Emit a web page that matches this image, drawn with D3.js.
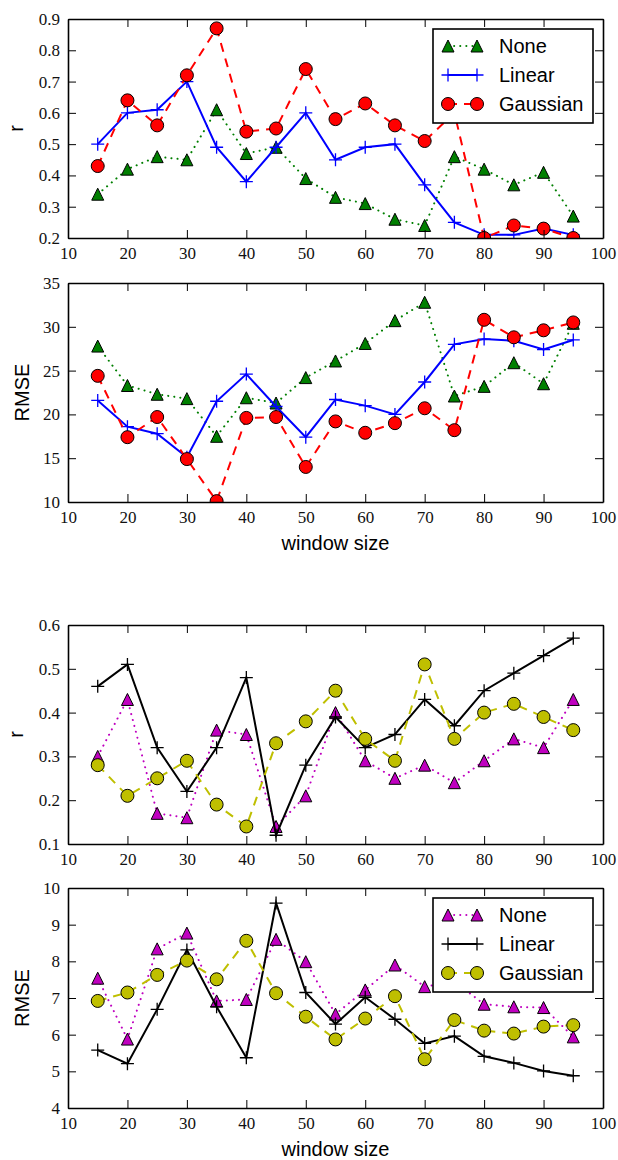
<!DOCTYPE html>
<html>
<head>
<meta charset="utf-8">
<script src="https://cdn.jsdelivr.net/npm/d3@7"></script>
<style>
  body { margin: 0; background: #fff; }
  .lbl { font-family: "Liberation Sans", Arial, sans-serif; font-size: 20px; fill: #000; }
</style>
</head>
<body>
<div id="chart"></div>
<script>
// window sizes shared by every panel
const windowSizes = [15, 20, 25, 30, 35, 40, 45, 50, 55, 60, 65, 70, 75, 80, 85, 90, 95];
const xTicks = [10, 20, 30, 40, 50, 60, 70, 80, 90, 100];
const seriesNames = ["None", "Linear", "Gaussian"];

// first dataset
const rNone1     = [0.34, 0.42, 0.46, 0.45, 0.61, 0.47, 0.49, 0.39, 0.33, 0.31, 0.26, 0.24, 0.46, 0.42, 0.37, 0.41, 0.27];
const rLinear1   = [0.50, 0.60, 0.61, 0.70, 0.49, 0.38, 0.49, 0.60, 0.45, 0.49, 0.50, 0.37, 0.25, 0.21, 0.21, 0.23, 0.21];
const rGauss1    = [0.43, 0.64, 0.56, 0.72, 0.87, 0.54, 0.55, 0.74, 0.58, 0.63, 0.56, 0.51, 0.60, 0.20, 0.24, 0.23, 0.20];
const rmseNone1  = [27.8, 23.3, 22.3, 21.8, 17.5, 21.9, 21.3, 24.2, 26.1, 28.1, 30.7, 32.8, 22.1, 23.2, 25.9, 23.5, 30.4];
const rmseLinear1 = [21.6, 18.6, 17.8, 15.1, 21.5, 24.6, 20.9, 17.4, 21.7, 21.0, 20.0, 23.7, 28.0, 28.6, 28.4, 27.4, 28.5];
const rmseGauss1 = [24.4, 17.4, 19.7, 14.9, 10.1, 19.6, 19.7, 14.0, 19.2, 17.9, 19.0, 20.7, 18.2, 30.8, 28.8, 29.6, 30.5];

// second dataset
const rNone2     = [0.30, 0.43, 0.17, 0.16, 0.36, 0.35, 0.14, 0.21, 0.40, 0.29, 0.25, 0.28, 0.24, 0.29, 0.34, 0.32, 0.43];
const rLinear2   = [0.46, 0.51, 0.32, 0.22, 0.32, 0.48, 0.12, 0.28, 0.39, 0.32, 0.35, 0.43, 0.37, 0.45, 0.49, 0.53, 0.57];
const rGauss2    = [0.28, 0.21, 0.25, 0.29, 0.19, 0.14, 0.33, 0.38, 0.45, 0.34, 0.29, 0.51, 0.34, 0.40, 0.42, 0.39, 0.36];
const rmseNone2  = [7.54, 5.88, 8.34, 8.77, 6.92, 6.96, 8.60, 7.99, 6.56, 7.22, 7.90, 7.31, 7.45, 6.83, 6.76, 6.74, 5.94];
const rmseLinear2 = [5.58, 5.21, 6.69, 8.31, 6.76, 5.37, 9.59, 7.15, 6.29, 7.02, 6.42, 5.76, 5.96, 5.41, 5.23, 5.01, 4.88];
const rmseGauss2 = [6.92, 7.15, 7.63, 8.02, 7.51, 8.56, 7.13, 6.49, 5.87, 6.44, 7.05, 5.33, 6.40, 6.11, 6.03, 6.22, 6.26];

const W = 618, H = 1160;
const svg = d3.select("#chart").append("svg").attr("width", W).attr("height", H);
const x = d3.scaleLinear().domain([10, 100]).range([68, 603]);

const styles1 = [
  { color: "#007f00", dash: "0.1,6", cap: "round", marker: "tri" },
  { color: "#0000ff", dash: null, cap: "butt", marker: "plus" },
  { color: "#ff0000", dash: "9,7", cap: "butt", marker: "circle" }
];
const styles2 = [
  { color: "#bf00bf", dash: "0.1,6", cap: "round", marker: "tri" },
  { color: "#000000", dash: null, cap: "butt", marker: "plus" },
  { color: "#bfbf00", dash: "9,7", cap: "butt", marker: "circle" }
];

const panels = [
  { top: 19, bottom: 238, domain: [0.2, 0.9], ticks: d3.range(2, 10).map(d => d / 10), fmt: d3.format(".1f"),
    ylabel: "r", labelX: 23, series: [rNone1, rLinear1, rGauss1], styles: styles1, legend: true, xlabel: false },
  { top: 283, bottom: 502, domain: [10, 35], ticks: [10, 15, 20, 25, 30, 35], fmt: d3.format("d"),
    ylabel: "RMSE", labelX: 29, series: [rmseNone1, rmseLinear1, rmseGauss1], styles: styles1, legend: false, xlabel: true },
  { top: 625, bottom: 844, domain: [0.1, 0.6], ticks: d3.range(1, 7).map(d => d / 10), fmt: d3.format(".1f"),
    ylabel: "r", labelX: 23, series: [rNone2, rLinear2, rGauss2], styles: styles2, legend: false, xlabel: false },
  { top: 888, bottom: 1108, domain: [4, 10], ticks: [4, 5, 6, 7, 8, 9, 10], fmt: d3.format("d"),
    ylabel: "RMSE", labelX: 29, series: [rmseNone2, rmseLinear2, rmseGauss2], styles: styles2, legend: true, xlabel: true }
];

function drawMarker(sel, st) {
  if (st.marker === "circle") {
    sel.append("circle").attr("r", 6.5).attr("fill", st.color).attr("stroke", "#000").attr("stroke-width", 1);
  } else if (st.marker === "tri") {
    sel.append("path").attr("d", "M0,-6L6,6L-6,6Z").attr("fill", st.color).attr("stroke", "#000").attr("stroke-width", 1);
  } else {
    sel.append("path").attr("d", "M-6.5,0H6.5M0,-6.5V6.5").attr("fill", "none").attr("stroke", st.color).attr("stroke-width", 1.3);
  }
}

panels.forEach((p, pi) => {
  const y = d3.scaleLinear().domain(p.domain).range([p.bottom, p.top]);
  const g = svg.append("g");
  const clipId = "clip" + pi;
  svg.append("clipPath").attr("id", clipId).append("rect")
    .attr("x", x.range()[0]).attr("y", p.top)
    .attr("width", x.range()[1] - x.range()[0]).attr("height", p.bottom - p.top);

  const plot = g.append("g").attr("clip-path", `url(#${clipId})`);
  p.series.forEach((vals, si) => {
    const st = p.styles[si];
    const pts = windowSizes.map((w, i) => [w, vals[i]]);
    const line = d3.line().x(d => x(d[0])).y(d => y(d[1]));
    plot.append("path").datum(pts).attr("d", line)
      .attr("fill", "none").attr("stroke", st.color).attr("stroke-width", 2)
      .attr("stroke-dasharray", st.dash).attr("stroke-linecap", st.cap);
    plot.selectAll(null).data(pts).enter().append("g")
      .attr("transform", d => `translate(${x(d[0])},${y(d[1])})`)
      .each(function () { drawMarker(d3.select(this), st); });
  });

  // axes with inward ticks on all four sides
  const axB = g.append("g").attr("transform", `translate(0,${p.bottom})`)
    .call(d3.axisBottom(x).tickValues(xTicks).tickSize(-8).tickSizeOuter(0).tickPadding(9));
  const axT = g.append("g").attr("transform", `translate(0,${p.top})`)
    .call(d3.axisTop(x).tickValues(xTicks).tickSize(-8).tickSizeOuter(0).tickFormat(""));
  const axL = g.append("g").attr("transform", `translate(${x.range()[0]},0)`)
    .call(d3.axisLeft(y).tickValues(p.ticks).tickFormat(p.fmt).tickSize(-8).tickSizeOuter(0).tickPadding(8));
  const axR = g.append("g").attr("transform", `translate(${x.range()[1]},0)`)
    .call(d3.axisRight(y).tickValues(p.ticks).tickSize(-8).tickSizeOuter(0).tickFormat(""));
  [axB, axT, axL, axR].forEach(a => {
    a.attr("font-family", "'Liberation Serif', 'DejaVu Serif', serif").attr("font-size", 17);
    a.select(".domain").attr("stroke", "#000").attr("stroke-width", 1.6);
    a.selectAll(".tick line").attr("stroke", "#000").attr("stroke-width", 1);
    a.selectAll(".tick text").attr("fill", "#111");
  });

  g.append("text").attr("class", "lbl")
    .attr("transform", `translate(${p.labelX},${(p.top + p.bottom) / 2}) rotate(-90)`)
    .attr("text-anchor", "middle").text(p.ylabel);

  if (p.xlabel) {
    g.append("text").attr("class", "lbl")
      .attr("x", (x.range()[0] + x.range()[1]) / 2).attr("y", p.bottom + 48)
      .attr("text-anchor", "middle").text("window size");
  }

  if (p.legend) {
    const lg = g.append("g").attr("transform", `translate(433,${p.top + 10})`);
    lg.append("rect").attr("width", 160).attr("height", 94)
      .attr("fill", "#fff").attr("stroke", "#000").attr("stroke-width", 1.6);
    seriesNames.forEach((name, si) => {
      const st = p.styles[si];
      const ry = [17, 46, 75][si];
      lg.append("line").attr("x1", 15).attr("x2", 44).attr("y1", ry).attr("y2", ry)
        .attr("stroke", st.color).attr("stroke-width", 2)
        .attr("stroke-dasharray", st.dash).attr("stroke-linecap", st.cap);
      [15, 44].forEach(mx => drawMarker(lg.append("g").attr("transform", `translate(${mx},${ry})`), st));
      lg.append("text").attr("class", "lbl").attr("x", 66).attr("y", ry)
        .attr("dominant-baseline", "central").text(name);
    });
  }
});
</script>
</body>
</html>
